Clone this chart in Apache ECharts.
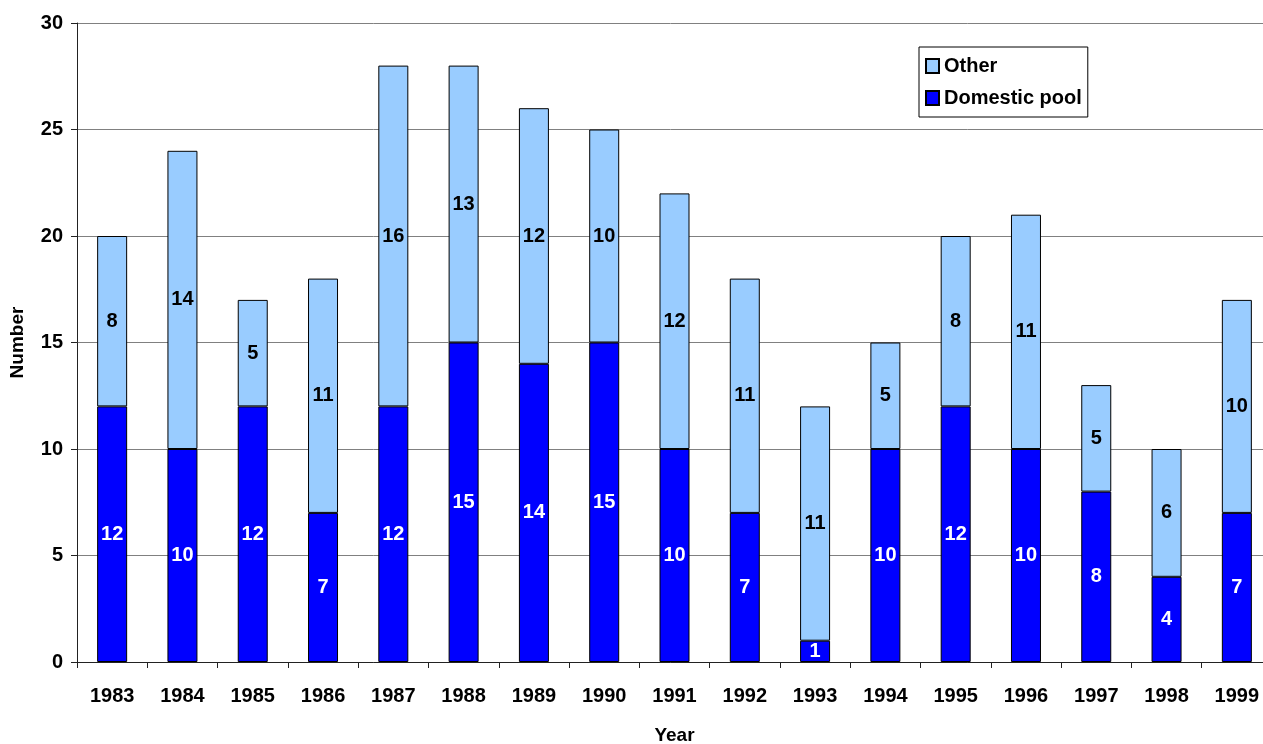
<!DOCTYPE html>
<html>
<head>
<meta charset="utf-8">
<script src="https://cdn.jsdelivr.net/npm/echarts@6/dist/echarts.min.js"></script>
<style>html,body{margin:0;padding:0;background:#fff}#c{width:1263px;height:744px}</style>
</head>
<body>
<div id="c"></div>
<script>
const years = ['1983','1984','1985','1986','1987','1988','1989','1990','1991','1992','1993','1994','1995','1996','1997','1998','1999'];
const domesticPool = [12,10,12,7,12,15,14,15,10,7,1,10,12,10,8,4,7];
const other = [8,14,5,11,16,13,12,10,12,11,11,5,8,11,5,6,10];

const font = '"Liberation Sans", Arial, sans-serif';
const chart = echarts.init(document.getElementById('c'));
chart.setOption({
  animation: false,
  textStyle: { fontFamily: font },
  grid: { left: 77, width: 1195, top: 23, height: 639, containLabel: false, outerBoundsMode: 'none' },
  legend: {
    orient: 'vertical',
    left: 919, top: 47,
    padding: [9, 6, 9, 6],
    itemGap: 12,
    itemWidth: 13, itemHeight: 14,
    icon: 'rect',
    borderColor: '#000', borderWidth: 1,
    textStyle: { fontFamily: font, fontWeight: 'bold', fontSize: 20, color: '#000' },
    data: ['Other', 'Domestic pool']
  },
  xAxis: {
    type: 'category',
    data: years,
    name: 'Year',
    nameLocation: 'middle',
    nameGap: 64,
    nameTextStyle: { fontFamily: font, fontWeight: 'bold', fontSize: 19, color: '#000' },
    axisLine: { lineStyle: { color: '#222', width: 1 } },
    axisTick: { show: true, length: 6, lineStyle: { color: '#222' } },
    axisLabel: { fontFamily: font, fontWeight: 'bold', fontSize: 20, color: '#000', margin: 24 }
  },
  yAxis: {
    type: 'value',
    min: 0, max: 30, interval: 5,
    name: 'Number',
    nameLocation: 'middle',
    nameGap: 50,
    nameTextStyle: { fontFamily: font, fontWeight: 'bold', fontSize: 19, color: '#000' },
    axisLine: { show: true, lineStyle: { color: '#222', width: 1 } },
    axisTick: { show: true, length: 6, lineStyle: { color: '#222' } },
    axisLabel: { fontFamily: font, fontWeight: 'bold', fontSize: 20, color: '#000', margin: 14 },
    splitLine: { lineStyle: { color: '#808080', width: 1 } }
  },
  series: [
    {
      name: 'Domestic pool',
      type: 'bar',
      stack: 'total',
      barWidth: 30,
      data: domesticPool,
      itemStyle: { color: '#0000FF', borderColor: '#000', borderWidth: 1 },
      label: { show: true, position: 'inside', color: '#fff', fontFamily: font, fontWeight: 'bold', fontSize: 20 }
    },
    {
      name: 'Other',
      type: 'bar',
      stack: 'total',
      barWidth: 30,
      data: other,
      itemStyle: { color: '#99CCFF', borderColor: '#000', borderWidth: 1 },
      label: { show: true, position: 'inside', color: '#000', fontFamily: font, fontWeight: 'bold', fontSize: 20 }
    }
  ]
});
</script>
</body>
</html>
